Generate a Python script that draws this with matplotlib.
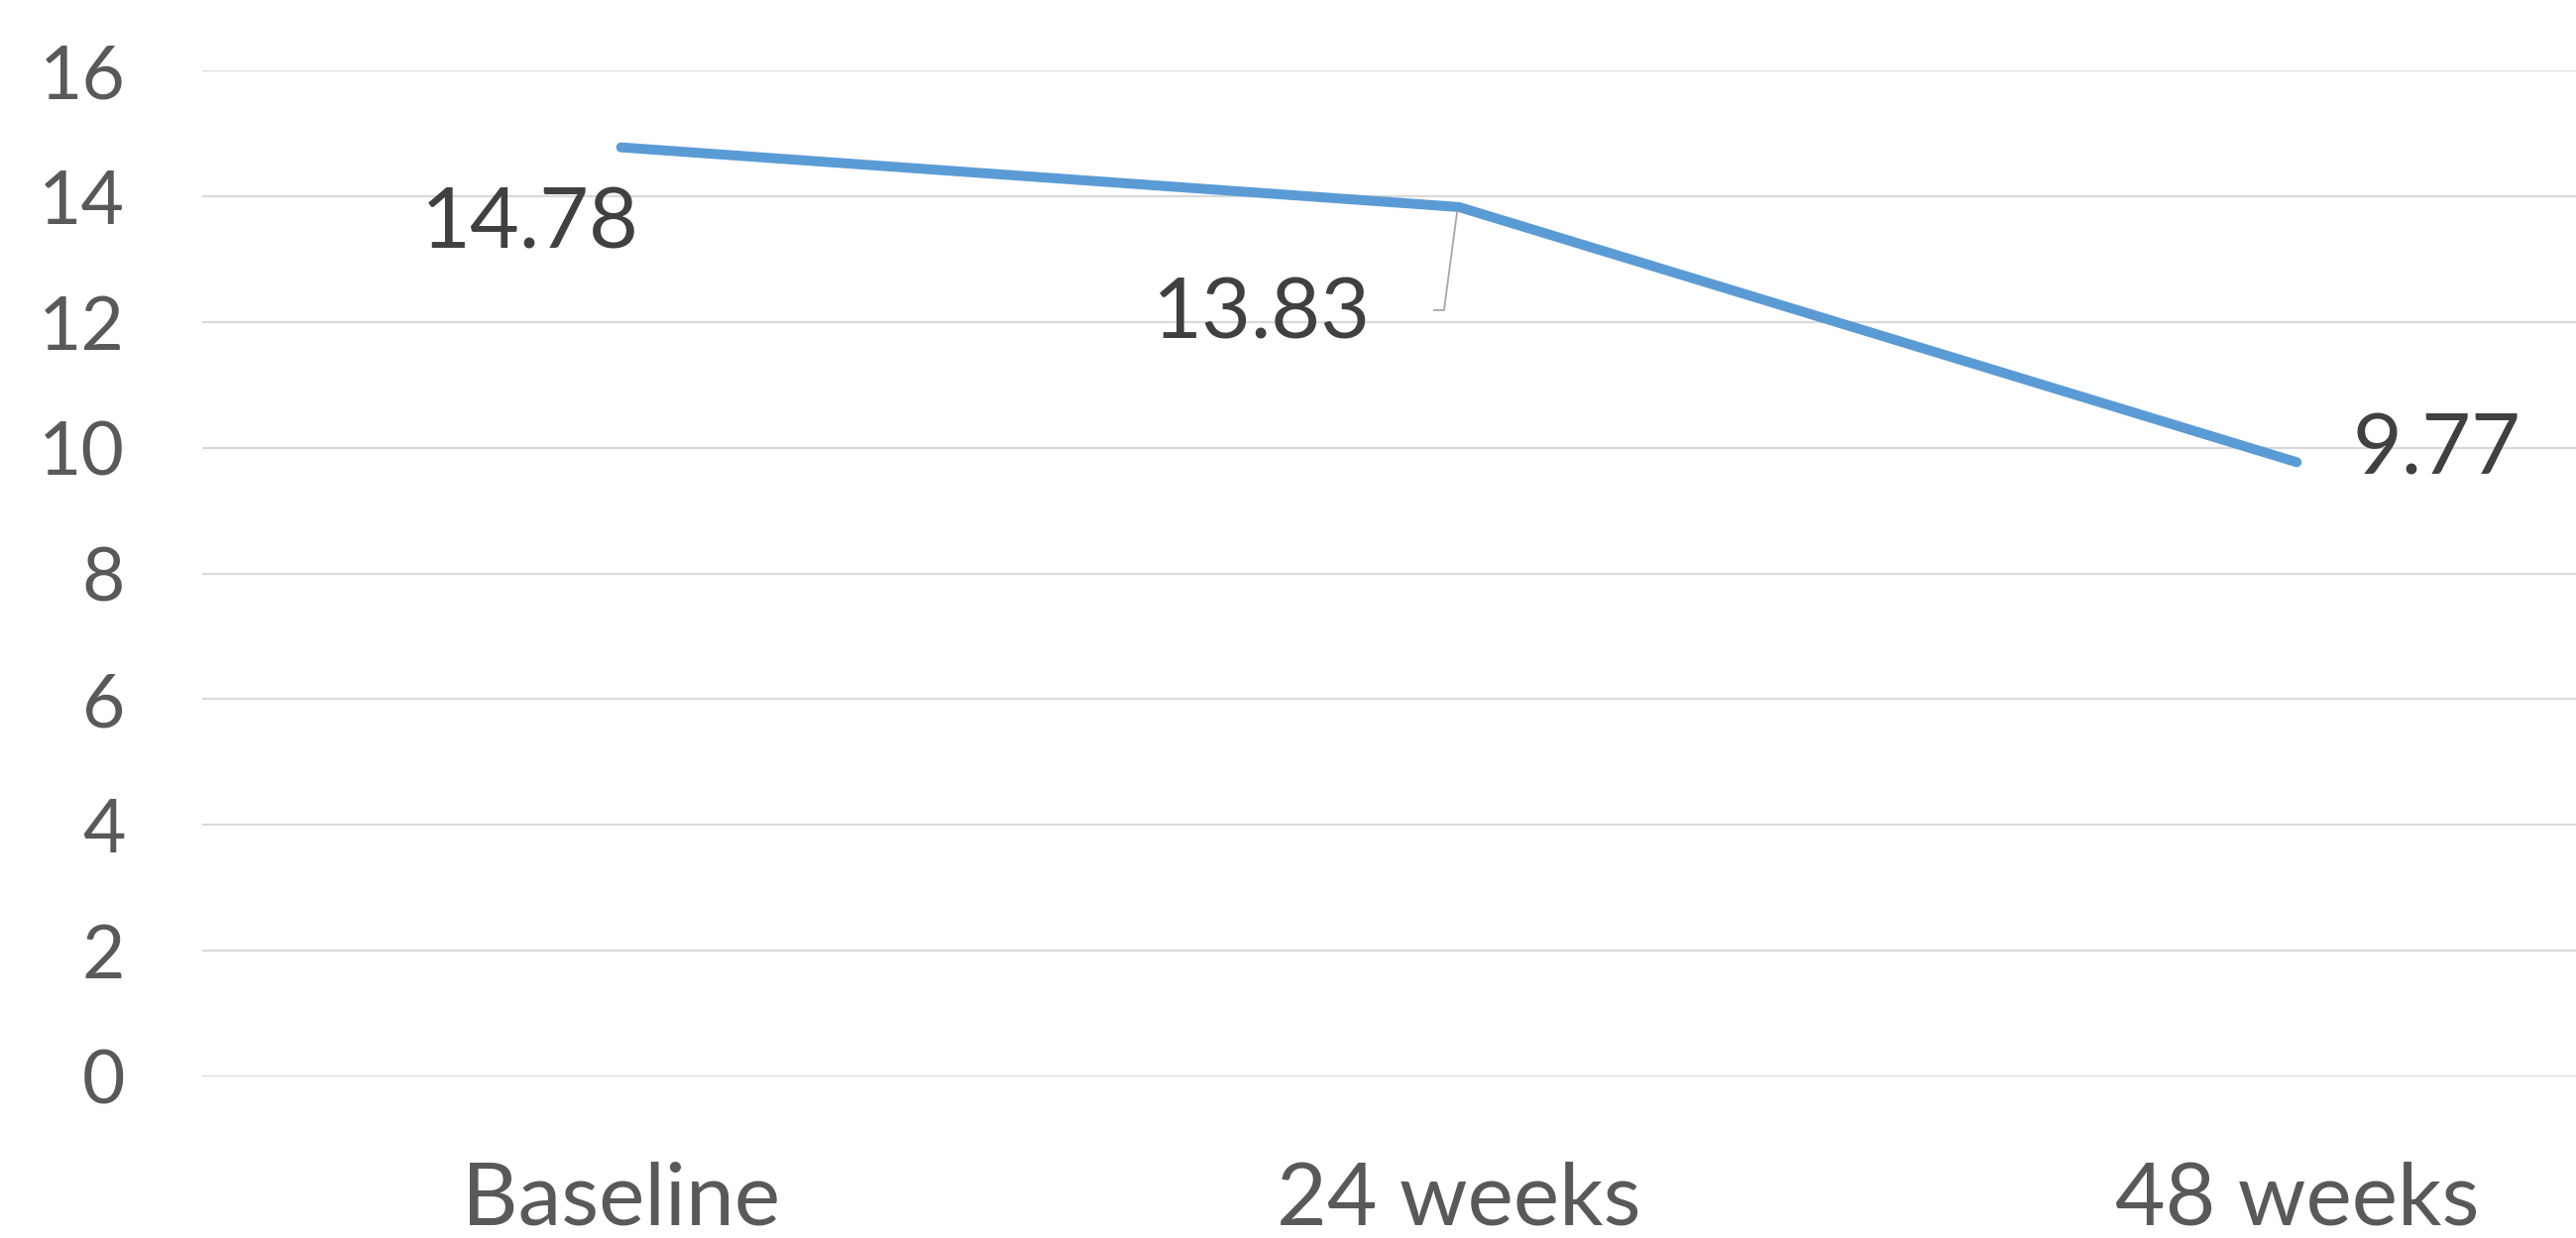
import matplotlib
matplotlib.use("Agg")
import matplotlib.pyplot as plt
import matplotlib.lines as mlines

categories = ["Baseline", "24 weeks", "48 weeks"]
values = [14.78, 13.83, 9.77]
value_labels = ["14.78", "13.83", "9.77"]
yticks = [0, 2, 4, 6, 8, 10, 12, 14, 16]

W, H = 2599, 1249
fig = plt.figure(figsize=(W / 100, H / 100), dpi=100)
plt.rcParams['font.family'] = ['Lato', 'DejaVu Sans']

left = 204 / W
bottom = 1 - 1085.7 / H
top = 1 - 71.3 / H
ax = fig.add_axes([left, bottom, 1 - left, top - bottom])

x = list(range(len(categories)))
ax.plot(x, values, color="#5B9BD5", lw=7.2, solid_capstyle="round",
        solid_joinstyle="round", zorder=3)

ax.set_xlim(-0.5, -0.5 + (W - 204) / 845.3)
ax.set_ylim(0, 16)
ax.set_yticks(yticks)
ax.set_yticklabels([str(t) for t in yticks])
ax.set_xticks(x)
ax.set_xticklabels(categories)
ax.grid(axis="y", color="#D9D9D9", lw=1.6)
ax.set_axisbelow(True)
for s in ax.spines.values():
    s.set_visible(False)
ax.tick_params(axis="both", length=0)
ax.tick_params(axis="y", labelsize=54, labelcolor="#595959", pad=56)
ax.tick_params(axis="x", labelsize=63, labelcolor="#595959", pad=62)

# data labels (offsets in pixels, relative to data points)
offsets = [(-92, -78), (-199, -109), (141, 12)]
for xi, v, lab, (dx, dy) in zip(x, values, value_labels, offsets):
    ax.annotate(lab, (xi, v), xytext=(dx, dy), textcoords="offset pixels",
                ha="center", va="center", fontsize=62, color="#404040")

# leader line for the middle label
pts = [(-25, -104), (-15, -104), (-2, -6)]
disp = ax.transData.transform((1, values[1]))
line_pts = [(disp[0] + dx, disp[1] + dy) for dx, dy in pts]
inv = fig.transFigure.inverted()
fpts = [inv.transform(p) for p in line_pts]
fig.add_artist(mlines.Line2D([p[0] for p in fpts], [p[1] for p in fpts],
                             color="#A6A6A6", lw=1.3))

fig.savefig("out.png", dpi=100)
